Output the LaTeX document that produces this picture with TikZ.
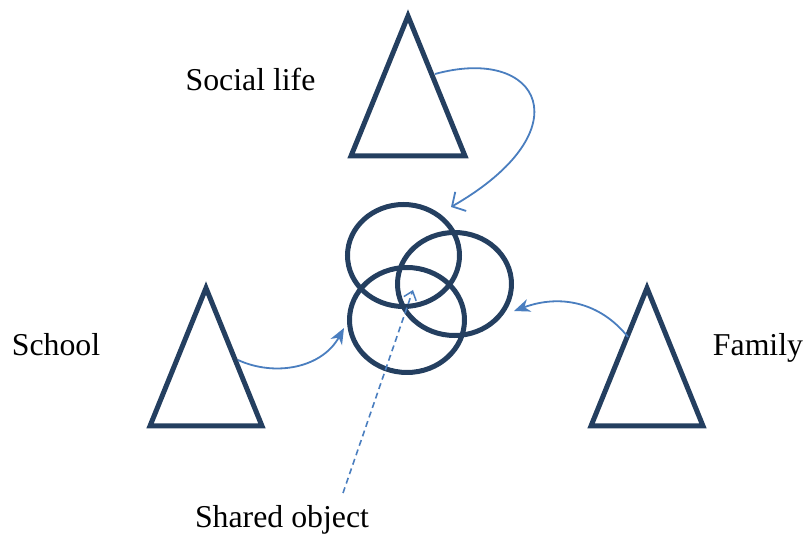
\documentclass[tikz,border=0pt]{standalone}
\usepackage{fontspec}
\setmainfont{Liberation Serif}
\usetikzlibrary{shapes.geometric,arrows.meta}
\definecolor{navy}{HTML}{243F60}
\definecolor{arrowblue}{HTML}{4A7EBF}
\begin{document}
\begin{tikzpicture}[x=1pt,y=-1pt,
  tri/.style={draw=navy,line width=5pt,line join=miter},
  ring/.style={ellipse,draw=navy,line width=5pt,inner sep=0pt},
  conn/.style={draw=arrowblue,line width=1.8pt},
  lab/.style={anchor=base,font=\fontsize{31.8}{36}\selectfont,inner sep=0pt}]
\useasboundingbox (0,0) rectangle (804,534);
% triangles
\draw[tri] (408,16) -- (465,156) -- (351,156) -- cycle;
\draw[tri] (206,288) -- (262,426) -- (150,426) -- cycle;
\draw[tri] (647,288) -- (703,426) -- (591,426) -- cycle;
% connector anchors on triangles
\coordinate (socialside) at (435,74);
\coordinate (schoolside) at (238,360);
\coordinate (familyside) at (628,337);
\coordinate (sharedtail) at (343,493);
% rings
\node[ring,minimum width=112pt,minimum height=102pt] (r1) at (403.5,255.5) {};
\node[ring,minimum width=114pt,minimum height=103pt] (r2) at (454.5,284) {};
\node[ring,minimum width=115pt,minimum height=105pt] (r3) at (407,320) {};
\coordinate (toparrow) at (451,207);
\coordinate (leftarrow) at (344,328);
\coordinate (rightarrow) at (514,311);
\coordinate (shared) at (413,290);
% labels
\node[lab] (social) at (250.5,91) {Social life};
\node[lab] (school) at (56,356) {School};
\node[lab] (family) at (758,356) {Family};
\node[lab] (object) at (282,528) {Shared object};
% connectors
\draw[conn,-{Straight Barb[length=10pt,width=22pt,line width=1.8pt]}]
  (socialside) .. controls (540,45) and (585,130) .. (toparrow);
\draw[conn,-{Stealth[length=16pt,width=13pt,inset=5pt]}]
  (schoolside) .. controls (275,377) and (322,368) .. (leftarrow);
\draw[conn,-{Stealth[length=16pt,width=13pt,inset=5pt]}]
  (familyside) .. controls (600,302) and (560,294) .. (rightarrow);
\draw[conn,line width=1.6pt,dashed,dash pattern=on 6pt off 4pt,-{Straight Barb[length=8pt,width=13pt,line width=1.5pt]}]
  (sharedtail) -- (shared);
\end{tikzpicture}
\end{document}
